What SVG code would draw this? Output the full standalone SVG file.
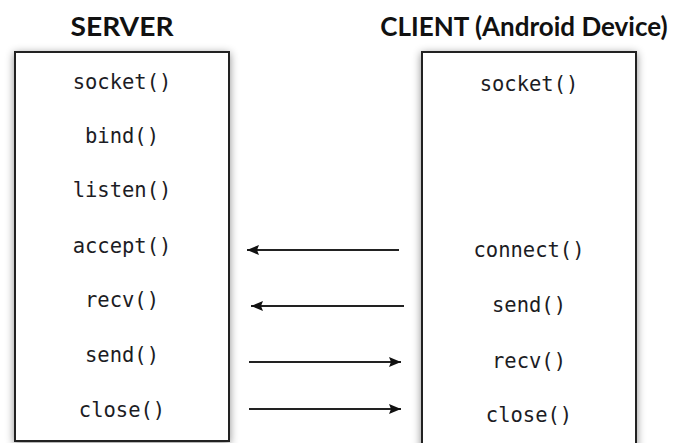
<svg xmlns="http://www.w3.org/2000/svg" width="676" height="443" viewBox="0 0 676 443">
  <defs>
    <filter id="shadow" x="-20%" y="-20%" width="140%" height="140%">
      <feDropShadow dx="0" dy="2" stdDeviation="4" flood-color="#000" flood-opacity="0.45"/>
    </filter>
    <marker id="head" viewBox="0 0 12 10" refX="12" refY="5" markerWidth="12" markerHeight="10" markerUnits="userSpaceOnUse" orient="auto">
      <path d="M0,0 L12,5 L0,10 L2,5 z" fill="#111"/>
    </marker>
    <style>
      .title { font-family: "Lato", "Liberation Sans", sans-serif; font-weight: 700; font-size: 26px; fill: #111; text-anchor: middle; }
      .box { fill: #fff; stroke: #222; stroke-width: 2; filter: url(#shadow); }
      .call { font-family: "DejaVu Sans Mono", "Liberation Mono", monospace; font-size: 20.5px; fill: #1c1c24; text-anchor: middle; }
      .link { stroke: #222; stroke-width: 2; fill: none; marker-end: url(#head); }
    </style>
  </defs>

  <rect width="676" height="443" fill="#fff"/>

  <!-- server side -->
  <g id="server">
    <text class="title" x="122" y="36" textLength="103" lengthAdjust="spacingAndGlyphs">SERVER</text>
    <rect class="box" x="15" y="52" width="214" height="389"/>
    <text class="call" x="122" y="89">socket()</text>
    <text class="call" x="122" y="143">bind()</text>
    <text class="call" x="122" y="197">listen()</text>
    <text class="call" x="122" y="253">accept()</text>
    <text class="call" x="122" y="307">recv()</text>
    <text class="call" x="122" y="362">send()</text>
    <text class="call" x="122" y="417">close()</text>
  </g>

  <!-- client side -->
  <g id="client">
    <text class="title" x="524" y="36">CLIENT (Android Device)</text>
    <rect class="box" x="422" y="52" width="214" height="400"/>
    <text class="call" x="529" y="91">socket()</text>
    <text class="call" x="529" y="257">connect()</text>
    <text class="call" x="529" y="312">send()</text>
    <text class="call" x="529" y="368">recv()</text>
    <text class="call" x="529" y="422">close()</text>
  </g>

  <!-- message arrows -->
  <g id="connectors">
    <line class="link" x1="399" y1="250" x2="247" y2="250"/>
    <line class="link" x1="404" y1="306" x2="251" y2="306"/>
    <line class="link" x1="249" y1="362" x2="401" y2="362"/>
    <line class="link" x1="249" y1="409" x2="401" y2="409"/>
  </g>
</svg>
